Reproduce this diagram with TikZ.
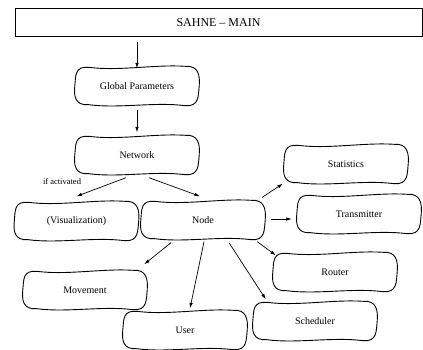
\documentclass[tikz,border=0pt]{standalone}
\usepackage{fontspec}
\setmainfont{Liberation Serif}
\usetikzlibrary{calc,arrows.meta}
\tikzset{
  blobtext/.style={minimum width=120pt,minimum height=37pt,inner sep=0pt,font=\fontsize{10}{12}\selectfont},
  blobline/.style={line width=0.9pt,line join=round},
  arr/.style={line width=0.7pt,-{Latex[length=5.5pt,width=3.5pt]}},
  mainbox/.style={draw,line width=1pt,minimum width=407pt,minimum height=28pt,inner sep=0pt,font=\fontsize{12}{14}\selectfont},
  small/.style={font=\fontsize{8.5}{10}\selectfont,inner sep=0pt}
}
\newcommand\blobaround[1]{%
\draw[blobline] ([shift={(12,0)}]#1.north west)
 .. controls ($(#1.north west)!0.35!(#1.north east)+(0,4)$) and ($(#1.north west)!0.65!(#1.north east)+(0,-3)$) .. ([shift={(-12,-1)}]#1.north east)
 .. controls ([shift={(1,-2)}]#1.north east) and ([shift={(3,-11)}]#1.east) .. ([shift={(2,0)}]#1.east)
 .. controls ([shift={(1,10)}]#1.east) and ([shift={(2,2)}]#1.south east) .. ([shift={(-12,1)}]#1.south east)
 .. controls ($(#1.south west)!0.65!(#1.south east)+(0,-3)$) and ($(#1.south west)!0.35!(#1.south east)+(0,4)$) .. ([shift={(12,0)}]#1.south west)
 .. controls ([shift={(-2,1)}]#1.south west) and ([shift={(-3,10)}]#1.west) .. ([shift={(-2,0)}]#1.west)
 .. controls ([shift={(-1,-11)}]#1.west) and ([shift={(-2,-1)}]#1.north west) .. cycle;}
\begin{document}
\begin{tikzpicture}[x=1pt,y=-1pt]
\useasboundingbox (0,0) rectangle (423,350);
\node[mainbox] (main) at (218.5,23) {SAHNE \textendash{} MAIN};
\node[blobtext] (gp)   at (137,86)  {Global Parameters};
\node[blobtext] (net)  at (137,155) {Network};
\node[blobtext] (vis)  at (76.5,221) {(Visualization)};
\node[blobtext] (nd)   at (203,220) {Node};
\node[blobtext] (stat) at (346,164) {Statistics};
\node[blobtext] (tr)   at (359,214) {Transmitter};
\node[blobtext] (rt)   at (335,272) {Router};
\node[blobtext] (sch)  at (315,321) {Scheduler};
\node[blobtext] (mov)  at (85,290)  {Movement};
\node[blobtext] (usr)  at (185,330) {User};
\node[small] (ifact) at (62,182) {if activated};
\foreach \n in {gp,net,vis,nd,stat,tr,rt,sch,mov,usr} {\blobaround{\n}}
\draw[arr, shorten <=5pt] (main.south -| gp.north) -- ([shift={(0,1)}]gp.north);
\draw[arr] ([shift={(0,5)}]gp.south) -- ([shift={(0,-4)}]net.north);
\draw[arr] ([shift={(-11,4)}]net.south) -- ([shift={(0,-6)}]vis.north);
\draw[arr] ([shift={(12,4)}]net.south) -- ([shift={(-3,-5)}]nd.north);
\draw[arr] ([shift={(-1,-4)}]nd.north east) -- ([shift={(-3,1)}]stat.south west);
\draw[arr] ([shift={(8,-1)}]nd.east) -- ([shift={(-7,5)}]tr.west);
\draw[arr] ([shift={(-32,4)}]nd.south) -- ([shift={(-1,-7)}]mov.north east);
\draw[arr] ([shift={(1,3)}]nd.south) -- ([shift={(5,-3)}]usr.north);
\draw[arr] ([shift={(26,4)}]nd.south) -- ([shift={(11,-3)}]sch.north west);
\draw[arr] ([shift={(-6,3)}]nd.south east) -- ([shift={(1,2)}]rt.north west);
\end{tikzpicture}
\end{document}
